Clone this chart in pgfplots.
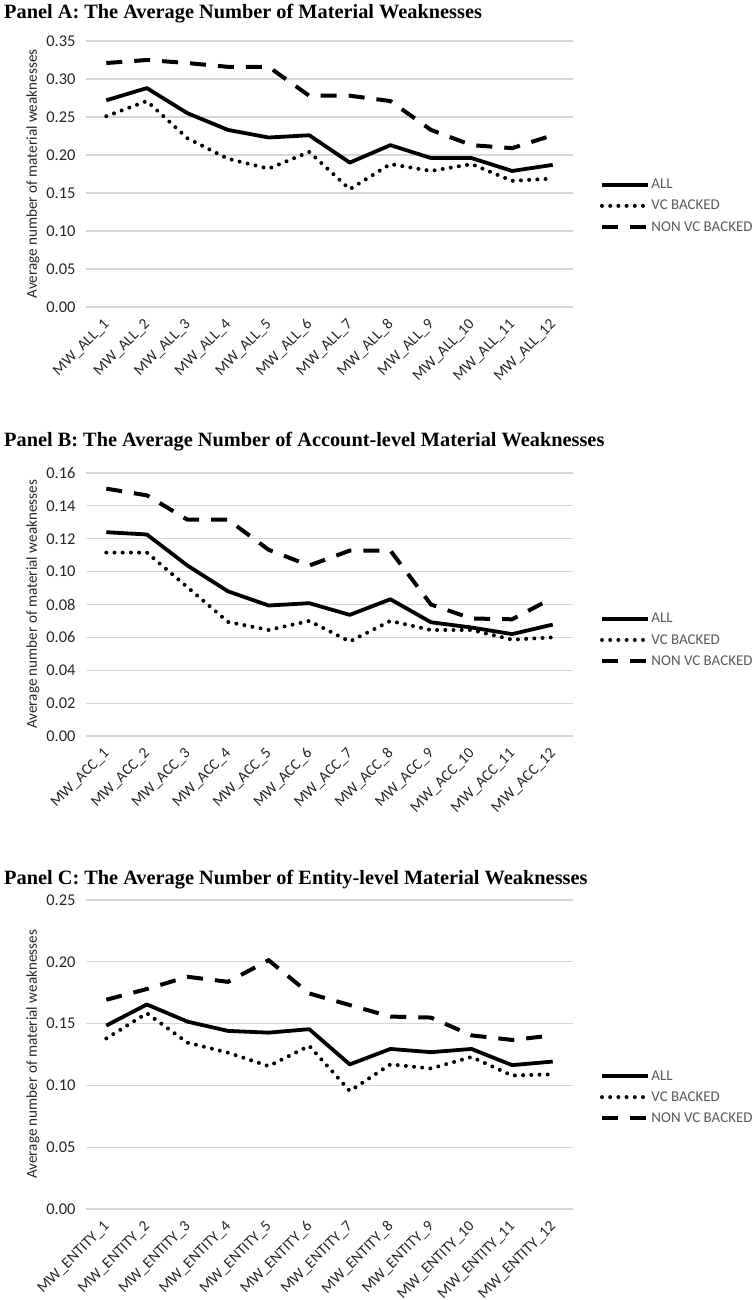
\documentclass[border=0pt]{standalone}
\usepackage{pgfplots}
\usepackage{pgfplotstable}
\pgfplotsset{compat=1.18}
\usepackage{fontspec}
\setmainfont{Carlito}
\newfontfamily\titlefont{Liberation Serif}

\pgfplotstableread{
x all vc non
0 0.272 0.251 0.321
1 0.288 0.271 0.325
2 0.255 0.222 0.321
3 0.233 0.195 0.316
4 0.223 0.182 0.316
5 0.226 0.204 0.278
6 0.190 0.155 0.278
7 0.213 0.188 0.271
8 0.196 0.179 0.233
9 0.196 0.188 0.213
10 0.179 0.166 0.209
11 0.187 0.169 0.226
}\tblA

\pgfplotstableread{
x all vc non
0 0.1240 0.1116 0.1505
1 0.1226 0.1116 0.1464
2 0.1037 0.0905 0.1316
3 0.0880 0.0694 0.1316
4 0.0794 0.0645 0.1133
5 0.0808 0.0700 0.1037
6 0.0737 0.0575 0.1128
7 0.0832 0.0700 0.1128
8 0.0692 0.0645 0.0800
9 0.0660 0.0645 0.0715
10 0.0620 0.0586 0.0710
11 0.0678 0.0600 0.0840
}\tblB

\pgfplotstableread{
x all vc non
0 0.1484 0.1380 0.1693
1 0.1655 0.1584 0.1780
2 0.1516 0.1346 0.1879
3 0.1441 0.1265 0.1838
4 0.1427 0.1156 0.2013
5 0.1455 0.1320 0.1744
6 0.1170 0.0955 0.1650
7 0.1295 0.1170 0.1557
8 0.1269 0.1137 0.1549
9 0.1295 0.1230 0.1405
10 0.1164 0.1080 0.1368
11 0.1193 0.1090 0.1404
}\tblC

\pgfplotsset{
  mwstyle/.style={
    scale only axis, width=487bp,
    xmin=-0.5, xmax=11.5, ymin=0,
    axis line style={draw=none}, tick style={draw=none},
    ymajorgrids, grid style={draw=black!16, line width=1.1bp},
    xtick={0,...,11},
    scaled y ticks=false,
    /pgf/number format/assume math mode=true,
    yticklabel style={font=\fontsize{16.5}{18}\selectfont, text=black!85,
      /pgf/number format/fixed, /pgf/number format/fixed zerofill,
      /pgf/number format/precision=2},
    yticklabel shift=7bp,
    xticklabel style={font=\fontsize{15.5}{17}\selectfont, text=black!85,
      rotate=45, anchor=east, inner sep=1bp, xshift=2bp},
    xticklabel shift=16bp,
    ylabel={Average number of material weaknesses},
    every axis y label/.style={at={(axis description cs:-0.109,0.5)},
      rotate=90, anchor=center, font=\fontsize{15.2}{17}\selectfont, text=black!85},
    legend cell align=left,
    legend image code/.code={\draw[##1] (0bp,0bp) -- (46bp,0bp);},
    legend style={draw=none, fill=none, anchor=west,
      font=\fontsize{15}{17}\selectfont, text=black!65,
      inner sep=0pt, row sep=7bp,
      nodes={inner sep=1.5bp}},
  },
  lall/.style={black, line width=3.8bp, line join=round},
  lvc/.style={black, line width=4bp, line cap=round, dash pattern=on 0bp off 8.2bp},
  lnon/.style={black, line width=4bp, dash pattern=on 16bp off 12bp},
}

\begin{document}
\begin{tikzpicture}
\path[use as bounding box] (0bp,0bp) rectangle (753bp,-1300bp);

\node[anchor=west, inner sep=0pt, font=\titlefont\bfseries\fontsize{20.4}{22}\selectfont] at (4bp,-14bp)
  {Panel A: The Average Number of Material Weaknesses};
\node[anchor=west, inner sep=0pt, font=\titlefont\bfseries\fontsize{20.4}{22}\selectfont] at (4bp,-442bp)
  {Panel B: The Average Number of Account-level Material Weaknesses};
\node[anchor=west, inner sep=0pt, font=\titlefont\bfseries\fontsize{20.4}{22}\selectfont] at (4bp,-880bp)
  {Panel C: The Average Number of Entity-level Material Weaknesses};

% Panel A
\begin{axis}[mwstyle, at={(86bp,-307bp)}, anchor=south west, height=266bp,
  ymax=0.35, ytick={0,0.05,0.10,0.15,0.20,0.25,0.30,0.35},
  xticklabels={MW\_ALL\_1,MW\_ALL\_2,MW\_ALL\_3,MW\_ALL\_4,MW\_ALL\_5,MW\_ALL\_6,MW\_ALL\_7,MW\_ALL\_8,MW\_ALL\_9,MW\_ALL\_10,MW\_ALL\_11,MW\_ALL\_12},
  legend style={at={(axis description cs:1.055,0.38)}}]
\addplot[lall] table[x=x,y=all] {\tblA};
\addplot[lvc] table[x=x,y=vc] {\tblA};
\addplot[lnon] table[x=x,y=non] {\tblA};
\legend{ALL,VC BACKED,NON VC BACKED}
\end{axis}

% Panel B
\begin{axis}[mwstyle, at={(86bp,-736bp)}, anchor=south west, height=263bp,
  ymax=0.16, ytick={0,0.02,0.04,0.06,0.08,0.10,0.12,0.14,0.16},
  xticklabels={MW\_ACC\_1,MW\_ACC\_2,MW\_ACC\_3,MW\_ACC\_4,MW\_ACC\_5,MW\_ACC\_6,MW\_ACC\_7,MW\_ACC\_8,MW\_ACC\_9,MW\_ACC\_10,MW\_ACC\_11,MW\_ACC\_12},
  legend style={at={(axis description cs:1.055,0.365)}}]
\addplot[lall] table[x=x,y=all] {\tblB};
\addplot[lvc] table[x=x,y=vc] {\tblB};
\addplot[lnon] table[x=x,y=non] {\tblB};
\legend{ALL,VC BACKED,NON VC BACKED}
\end{axis}

% Panel C
\begin{axis}[mwstyle, at={(86bp,-1209bp)}, anchor=south west, height=309bp,
  ymax=0.25, ytick={0,0.05,0.10,0.15,0.20,0.25},
  xticklabels={MW\_ENTITY\_1,MW\_ENTITY\_2,MW\_ENTITY\_3,MW\_ENTITY\_4,MW\_ENTITY\_5,MW\_ENTITY\_6,MW\_ENTITY\_7,MW\_ENTITY\_8,MW\_ENTITY\_9,MW\_ENTITY\_10,MW\_ENTITY\_11,MW\_ENTITY\_12},
  legend style={at={(axis description cs:1.055,0.362)}}]
\addplot[lall] table[x=x,y=all] {\tblC};
\addplot[lvc] table[x=x,y=vc] {\tblC};
\addplot[lnon] table[x=x,y=non] {\tblC};
\legend{ALL,VC BACKED,NON VC BACKED}
\end{axis}
\end{tikzpicture}
\end{document}
